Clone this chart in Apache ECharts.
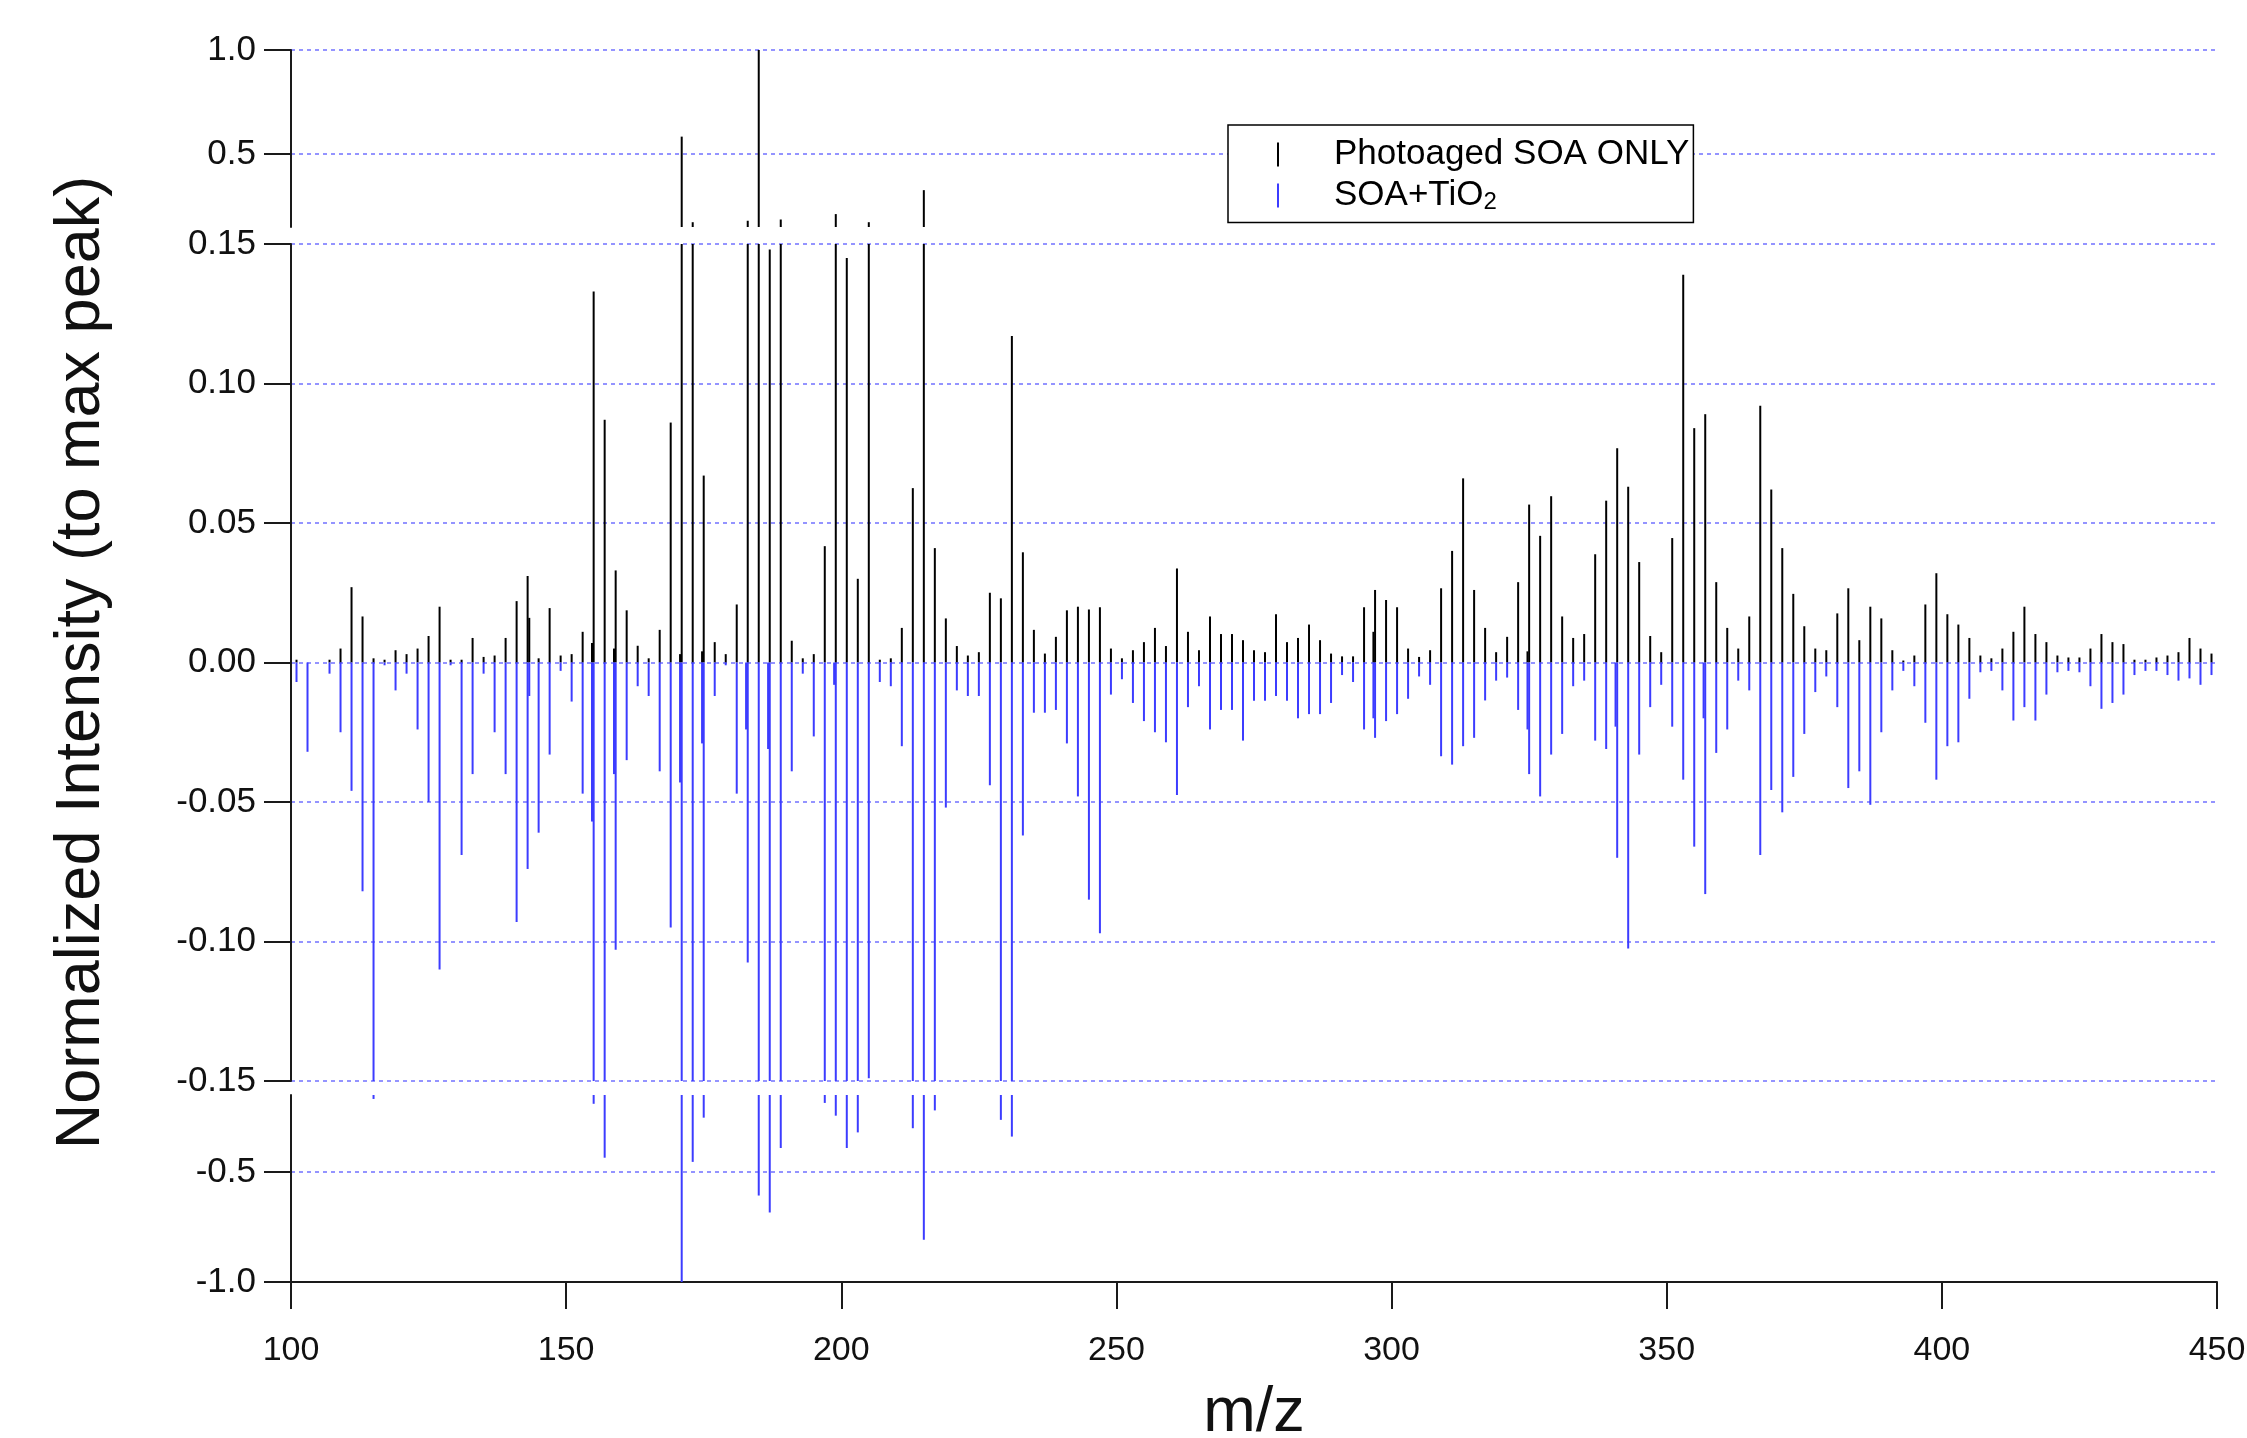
<!DOCTYPE html>
<html>
<head>
<meta charset="utf-8">
<title>Photoaged SOA vs SOA+TiO2 mass spectrum</title>
<script src="https://cdn.jsdelivr.net/npm/echarts@6.0.0/dist/echarts.min.js"></script>
<style>
  html, body { margin: 0; padding: 0; background: #fff; }
  #chart { width: 2247px; height: 1438px; }
</style>
</head>
<body>
<div id="chart"></div>
<script>
// m/z of each peak (a few close doublets written with a decimal)
const mz = [
  101, 103, 107, 109, 111, 113, 115, 117, 119, 121, 123, 125, 127, 129,
  131, 133, 135, 137, 139, 141, 143, 143.3, 145, 147, 149,
  151, 153, 154.7, 155, 157, 158.7, 159, 161, 163, 165, 167, 169,
  170.7, 171, 173, 174.7, 175, 177, 179, 181, 182.7, 183, 185, 186.7, 187, 189,
  191, 193, 195, 197, 198.7, 199, 201, 203, 205, 207, 209,
  211, 213, 215, 217, 219, 221, 223, 225, 227, 229,
  231, 233, 235, 237, 239, 241, 243, 245, 247, 249,
  251, 253, 255, 257, 259, 261, 263, 265, 267, 269,
  271, 273, 275, 277, 279, 281, 283, 285, 287, 289,
  291, 293, 295, 296.7, 297, 299, 301, 303, 305, 307, 309,
  311, 313, 315, 317, 319, 321, 323, 324.7, 325, 327, 329,
  331, 333, 335, 337, 339, 340.7, 341, 343, 345, 347, 349,
  351, 353, 355, 356.7, 357, 359, 361, 363, 365, 367, 369,
  371, 373, 375, 377, 379, 381, 383, 385, 387, 389,
  391, 393, 395, 397, 399, 401, 403, 405, 407, 409,
  411, 413, 415, 417, 419, 421, 423, 425, 427, 429,
  431, 433, 435, 437, 439, 441, 443, 445, 447, 449
];

// Photoaged SOA ONLY (plotted upward)
const photoaged = [
  0.001, 0, 0.001, 0.005, 0.027, 0.0165, 0.0015, 0.001, 0.0044, 0.003, 0.005, 0.0095, 0.020, 0.001,
  0.001, 0.0088, 0.002, 0.0025, 0.0088, 0.022, 0.031, 0.016, 0.0015, 0.0195, 0.0025,
  0.003, 0.011, 0.007, 0.133, 0.087, 0.005, 0.033, 0.0187, 0.006, 0.0015, 0.0117, 0.086,
  0.003, 0.584, 0.173, 0.004, 0.067, 0.0073, 0.003, 0.0208, 0, 0.18, 1.0, 0, 0.148, 0.186,
  0.0078, 0.0015, 0.003, 0.0417, 0, 0.212, 0.145, 0.030, 0.173, 0.001, 0.0015,
  0.0124, 0.0625, 0.327, 0.041, 0.0158, 0.0059, 0.0025, 0.0037, 0.025, 0.023,
  0.117, 0.0395, 0.0117, 0.0032, 0.0092, 0.0187, 0.020, 0.019, 0.0198, 0.005,
  0.0015, 0.0044, 0.0073, 0.0124, 0.0059, 0.0337, 0.011, 0.0044, 0.0165, 0.0102,
  0.0102, 0.008, 0.0044, 0.0037, 0.0173, 0.0073, 0.0088, 0.0136, 0.008, 0.0032,
  0.0022, 0.0022, 0.0198, 0.011, 0.026, 0.0224, 0.0198, 0.005, 0.002, 0.0044, 0.0266,
  0.040, 0.066, 0.026, 0.0124, 0.0037, 0.0092, 0.0288, 0.004, 0.0566, 0.0454, 0.0596,
  0.0165, 0.0088, 0.0102, 0.0388, 0.058, 0, 0.0768, 0.063, 0.036, 0.0095, 0.0037,
  0.0446, 0.139, 0.084, 0, 0.089, 0.0288, 0.0124, 0.005, 0.0165, 0.092, 0.062,
  0.041, 0.0246, 0.013, 0.005, 0.0044, 0.0176, 0.0266, 0.008, 0.020, 0.0158,
  0.0044, 0.0007, 0.0025, 0.0208, 0.032, 0.0173, 0.0136, 0.0088, 0.0025, 0.0015,
  0.005, 0.011, 0.020, 0.0102, 0.0073, 0.0025, 0.0018, 0.0018, 0.005, 0.0102,
  0.0073, 0.0066, 0.001, 0.001, 0.0018, 0.0025, 0.0037, 0.0088, 0.005, 0.0032
];

// SOA+TiO2 (plotted downward)
const soaTiO2 = [
  -0.007, -0.032, -0.004, -0.025, -0.046, -0.082, -0.168, -0.001, -0.010, -0.004, -0.024, -0.050, -0.110, -0.001,
  -0.069, -0.040, -0.004, -0.025, -0.040, -0.093, -0.074, -0.012, -0.061, -0.033, -0.003,
  -0.014, -0.047, -0.057, -0.19, -0.435, -0.040, -0.103, -0.035, -0.0085, -0.012, -0.039, -0.095,
  -0.043, -1.0, -0.454, -0.029, -0.253, -0.012, -0.001, -0.047, -0.024, -0.1075, -0.607, -0.031, -0.684, -0.391,
  -0.039, -0.004, -0.0265, -0.186, -0.008, -0.244, -0.391, -0.32, -0.149, -0.007, -0.0085,
  -0.030, -0.301, -0.808, -0.22, -0.052, -0.010, -0.012, -0.012, -0.044, -0.263,
  -0.339, -0.062, -0.018, -0.018, -0.017, -0.029, -0.048, -0.085, -0.097, -0.0115,
  -0.006, -0.0145, -0.021, -0.025, -0.0286, -0.0475, -0.016, -0.0085, -0.024, -0.017,
  -0.017, -0.028, -0.0137, -0.0137, -0.012, -0.0137, -0.020, -0.0185, -0.0185, -0.0145,
  -0.0045, -0.007, -0.024, -0.02, -0.027, -0.021, -0.0185, -0.013, -0.005, -0.008, -0.0336,
  -0.0366, -0.030, -0.027, -0.0136, -0.0065, -0.0054, -0.017, -0.024, -0.040, -0.048, -0.033,
  -0.0256, -0.0085, -0.0065, -0.028, -0.031, -0.023, -0.070, -0.1025, -0.033, -0.016, -0.008,
  -0.023, -0.042, -0.066, -0.020, -0.083, -0.0324, -0.024, -0.0065, -0.010, -0.069, -0.0457,
  -0.0537, -0.041, -0.0256, -0.0106, -0.005, -0.016, -0.045, -0.039, -0.051, -0.025,
  -0.010, -0.003, -0.0085, -0.0216, -0.042, -0.030, -0.0286, -0.013, -0.0035, -0.003,
  -0.010, -0.0208, -0.016, -0.0208, -0.0115, -0.0035, -0.003, -0.0035, -0.0085, -0.0166,
  -0.0145, -0.0115, -0.0045, -0.003, -0.003, -0.0045, -0.0065, -0.0057, -0.008, -0.0045
];

// tick labels of the broken y axis
const topTicks = [0.5, 1.0];
const bottomTicks = [-1.0, -0.5];

const FONT = '"Liberation Sans", Arial, sans-serif';
const AXIS_COLOR = '#1a1a1a';
const BLACK = '#000000';
const BLUE = '#3c3cff';

const chart = echarts.init(document.getElementById('chart'));

// three stacked panels: top (0.15..1), middle (-0.15..0.15), bottom (-1..-0.15)
const grids = [
  { left: 291, right: 30, top: 50, height: 177, outerBoundsMode: 'none' },
  { left: 291, right: 30, top: 244, height: 837, outerBoundsMode: 'none' },
  { left: 291, right: 30, top: 1095, height: 187, outerBoundsMode: 'none' }
];

const splitLine = {
  show: true,
  lineStyle: { color: '#7272ff', width: 1.5, type: [4, 4] }
};

const yBase = {
  type: 'value',
  axisLine: { show: true, lineStyle: { color: AXIS_COLOR, width: 2 } },
  axisTick: { show: true, length: 27, lineStyle: { color: AXIS_COLOR, width: 2 } },
  axisLabel: { margin: 35, fontSize: 35, color: '#111', fontFamily: FONT },
  splitLine: splitLine
};

const xBase = {
  type: 'value',
  min: 100,
  max: 450,
  interval: 50
};

const xAxes = [
  Object.assign({}, xBase, { gridIndex: 0, show: false }),
  Object.assign({}, xBase, { gridIndex: 1, show: false }),
  Object.assign({}, xBase, {
    gridIndex: 2,
    name: 'm/z',
    nameLocation: 'middle',
    nameGap: 100,
    nameTextStyle: { fontSize: 63, color: '#111', fontFamily: FONT },
    axisLine: { show: true, lineStyle: { color: AXIS_COLOR, width: 2 } },
    axisTick: { show: true, length: 27, lineStyle: { color: AXIS_COLOR, width: 2 } },
    axisLabel: { margin: 52, fontSize: 34, color: '#111', fontFamily: FONT, showMaxLabel: true },
    splitLine: { show: false }
  })
];

const yAxes = [
  Object.assign({}, yBase, {
    gridIndex: 0, min: 0.15, max: 1.0,
    axisTick: Object.assign({}, yBase.axisTick, { customValues: topTicks }),
    axisLabel: Object.assign({}, yBase.axisLabel, { customValues: topTicks, formatter: v => v.toFixed(1) })
  }),
  Object.assign({}, yBase, {
    gridIndex: 1, min: -0.15, max: 0.15, interval: 0.05,
    axisLabel: Object.assign({}, yBase.axisLabel, { formatter: v => v.toFixed(2) }),
    name: 'Normalized Intensity (to max peak)',
    nameLocation: 'middle',
    nameGap: 178,
    nameTextStyle: { fontSize: 63, color: '#111', fontFamily: FONT }
  }),
  Object.assign({}, yBase, {
    gridIndex: 2, min: -1.0, max: -0.15,
    axisTick: Object.assign({}, yBase.axisTick, { customValues: bottomTicks }),
    axisLabel: Object.assign({}, yBase.axisLabel, { customValues: bottomTicks, formatter: v => v.toFixed(1) })
  })
];

const blackData = mz.map((m, i) => [m, photoaged[i]]);
const blueData = mz.map((m, i) => [m, soaTiO2[i]]);

const series = [];
[0, 1, 2].forEach(g => {
  series.push({
    name: 'Photoaged SOA ONLY',
    type: 'bar',
    xAxisIndex: g,
    yAxisIndex: g,
    barWidth: 2,
    barGap: '-100%',
    itemStyle: { color: BLACK },
    silent: true,
    data: blackData
  });
  series.push({
    name: 'SOA+TiO2',
    type: 'bar',
    xAxisIndex: g,
    yAxisIndex: g,
    barWidth: 2,
    barGap: '-100%',
    itemStyle: { color: BLUE },
    silent: true,
    data: blueData
  });
});

chart.setOption({
  backgroundColor: '#ffffff',
  animation: false,
  textStyle: { fontFamily: FONT },
  grid: grids,
  xAxis: xAxes,
  yAxis: yAxes,
  legend: {
    data: ['Photoaged SOA ONLY', 'SOA+TiO2'],
    orient: 'vertical',
    left: 1228,
    top: 125,
    padding: [12, 4, 8, 49],
    itemGap: 6,
    itemWidth: 2,
    itemHeight: 24,
    icon: 'rect',
    backgroundColor: '#ffffff',
    borderColor: '#000000',
    borderWidth: 1.5,
    selectedMode: false,
    formatter: name => name === 'SOA+TiO2' ? 'SOA+TiO{sub|2}' : name,
    textStyle: {
      fontSize: 35,
      color: '#000',
      fontFamily: FONT,
      padding: [0, 0, 0, 50],
      rich: {
        sub: { fontSize: 24, fontFamily: FONT, color: '#000', padding: [14, 0, 0, 0] }
      }
    }
  },
  series: series
});
</script>
</body>
</html>
